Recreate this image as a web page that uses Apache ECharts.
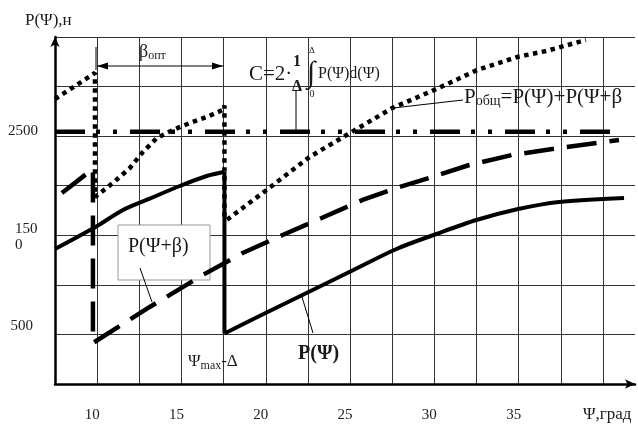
<!DOCTYPE html>
<html><head><meta charset="utf-8">
<script src="https://cdn.jsdelivr.net/npm/echarts@6/dist/echarts.min.js"></script>
<style>html,body{margin:0;padding:0;background:#fff}#c{width:638px;height:428px}</style>
</head><body><div id="c"></div>
<script>
// Tick labels
const xLabelValues = [10, 15, 20, 25, 30, 35];
const yLabelValues = [500, 1500, 2500];
// P(Ψ) – solid
const pPsiRise1 = [[7.5,1362],[10,1594],[11.53,1755],[13.12,1870],[14.9,1997],[16.5,2098],[17.5,2138]];
const pPsiDrop  = [[17.55,2138],[17.55,510]];
const pPsiRise2 = [[17.55,510],[20.05,721],[22.6,933],[25.14,1145],[27.75,1362],[30.12,1513],[32.49,1654],[34.97,1765],[37.4,1836],[41.25,1876]];
// P(Ψ+β) – dashed
const pPsiBeta = [[7.91,1926],[9.75,2170],[9.75,413],[13.12,777],[16.26,1099],[18.63,1321],[21.0,1503],[23.31,1674],[25.74,1856],[27.93,1987],[29.7,2078],[32.07,2209],[34.62,2310],[37.4,2380],[40.95,2461]];
// P_общ – dotted
const pSum = [[7.5,2874],[9.87,3137],[9.87,1886],[10.93,2027],[11.94,2179],[12.71,2340],[13.54,2481],[14.49,2562],[15.49,2632],[16.5,2693],[17.45,2764],[17.55,2810],[17.55,1680],[17.68,1654],[20.05,1957],[22.6,2290],[24.79,2511],[27.51,2784],[30.12,2975],[32.54,3167],[34.91,3298],[36.63,3359],[38.99,3470]];
// C level – dash-dot-dot
const cLevel = [[7.5,2545],[41.0,2545]];

const F = 'Liberation Serif';
const ink = '#1a1a1a';
const chart = echarts.init(document.getElementById('c'));

function t(x, y, text, size, extra) {
  return Object.assign({type:'text', x:x, y:y, z:20, style:Object.assign({text:text, fontFamily:F, fontSize:size, fill:ink, verticalAlign:'middle'}, extra||{})});
}
function ln(x1,y1,x2,y2,w){ return {type:'line', z:20, shape:{x1,y1,x2,y2}, style:{stroke:'#000', lineWidth:w||1}}; }

chart.setOption({
  animation:false,
  grid:{left:55, top:37, right:2, bottom:44},
  xAxis:{
    type:'value', min:7.5, max:41.9, interval:2.5,
    axisLine:{lineStyle:{color:'#000', width:2.5}, symbol:['none','arrow'], symbolSize:[7,10]},
    axisTick:{show:false},
    splitLine:{show:true, showMaxLine:false, lineStyle:{color:'#333', width:1}},
    axisLabel:{
      margin:24, fontFamily:F, fontSize:15, color:'#222', padding:[0,10,0,0],
      formatter:v => xLabelValues.indexOf(v) >= 0 ? String(v) : ''
    }
  },
  yAxis:{
    type:'value', min:0, max:3500, interval:500,
    axisLine:{lineStyle:{color:'#000', width:2.5}, symbol:['none','arrow'], symbolSize:[7,10]},
    axisTick:{show:false},
    splitLine:{show:true, lineStyle:{color:'#333', width:1}},
    axisLabel:{
      margin:17, align:'right', fontFamily:F, fontSize:15, color:'#222',
      formatter:v => {
        if (yLabelValues.indexOf(v) < 0) return '';
        if (v === 2500) return '{a|2500}';
        if (v === 500) return '{d|500}';
        const s = String(v);
        return '{b|' + s.slice(0,3) + '}\n{c|' + s.slice(3) + '}';
      },
      rich:{
        a:{fontFamily:F, fontSize:15, color:'#222', padding:[0,0,10,0]},
        d:{fontFamily:F, fontSize:15, color:'#222', padding:[0,5,16,0]},
        b:{fontFamily:F, fontSize:15, color:'#222', lineHeight:19, width:23, align:'left', padding:[6,0,0,0]},
        c:{fontFamily:F, fontSize:15, color:'#222', lineHeight:19, width:23, align:'left'}
      }
    }
  },
  series:[
    {type:'line', data:pSum, showSymbol:false, symbol:'none', z:3,
     lineStyle:{color:'#000', width:4.5, type:[4.5,4.5]}},
    {type:'line', data:cLevel, showSymbol:false, symbol:'none', z:3,
     lineStyle:{color:'#000', width:4.5, type:[30,11,4,13,4,13]}},
    {type:'line', data:pPsiBeta, showSymbol:false, symbol:'none', z:4,
     lineStyle:{color:'#000', width:4.5, type:[30,13]}},
    {type:'line', data:pPsiRise1, showSymbol:false, symbol:'none', smooth:0.3, z:5,
     lineStyle:{color:'#000', width:4}},
    {type:'line', data:pPsiDrop, showSymbol:false, symbol:'none', z:5,
     lineStyle:{color:'#000', width:4}},
    {type:'line', data:pPsiRise2, showSymbol:false, symbol:'none', smooth:0.3, z:5,
     lineStyle:{color:'#000', width:4}}
  ],
  graphic:{elements:[
    t(25, 21, 'P(Ψ),н', 17),
    t(139, 52, '{b|β}{s|опт}', 18, {rich:{b:{fontSize:18, fontFamily:F, fill:ink}, s:{fontSize:12, fontFamily:F, fill:ink, padding:[8,0,0,0]}}}),
    ln(97,66,223,66,1),
    {type:'polygon', z:20, shape:{points:[[97,66],[108,62.5],[108,69.5]]}, style:{fill:'#000'}},
    {type:'polygon', z:20, shape:{points:[[223,66],[212,62.5],[212,69.5]]}, style:{fill:'#000'}},
    ln(96,47,96,70,1),
    t(249, 74, 'C=2·', 21),
    t(297, 62, '1', 16, {fontWeight:'bold', align:'center'}),
    t(297, 87, 'Δ', 16, {fontWeight:'bold', align:'center'}),
    t(311, 74, '∫', 30, {align:'center'}),
    t(312, 51, 'Δ', 9, {align:'center'}),
    t(312, 94, '0', 10, {align:'center'}),
    t(318, 74, 'P(Ψ)d(Ψ)', 16),
    ln(296,91,296,131,1),
    t(464, 97, '{p|P}{s|общ}{p|=P(Ψ)+P(Ψ+β}', 21, {rich:{p:{fontSize:21, fontFamily:F, fill:ink}, s:{fontSize:14, fontFamily:F, fill:ink, padding:[9,0,0,0]}}}),
    ln(393,108,463,100,1),
    {type:'rect', z:1, shape:{x:118, y:225, width:92, height:55}, style:{fill:'#fff', stroke:'#999', lineWidth:1}},
    t(128, 247, 'P(Ψ+β)', 20),
    ln(140,268,152,302,1),
    t(188, 362, '{a|Ψ}{s|max}{a|-Δ}', 17, {rich:{a:{fontSize:17, fontFamily:F, fill:ink}, s:{fontSize:12, fontFamily:F, fill:ink, padding:[8,0,0,0]}}}),
    t(298, 354, 'P(Ψ)', 20, {fontWeight:'bold'}),
    ln(302,297,313,333,1),
    t(583, 415, 'Ψ,град', 17)
  ]}
});
</script>
</body></html>
